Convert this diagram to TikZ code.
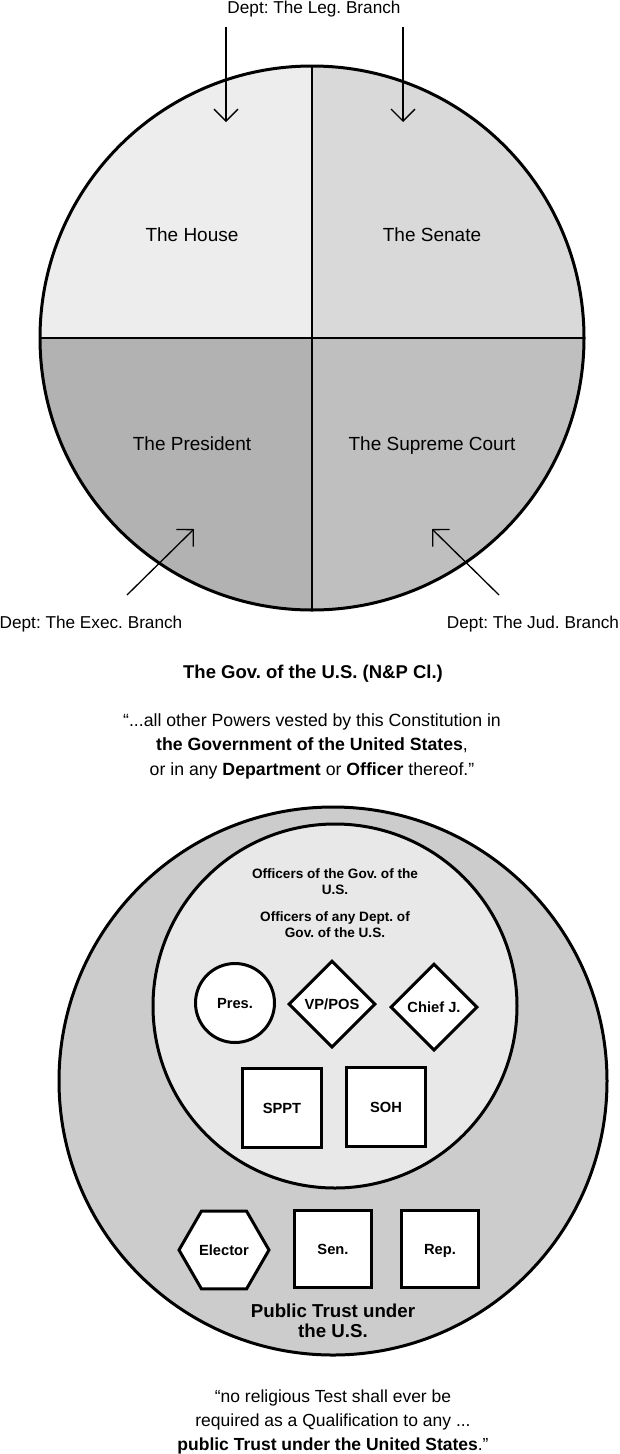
\documentclass[tikz,border=0pt]{standalone}
\usepackage{fontspec}
\setmainfont{Liberation Sans}
\frenchspacing
\usepackage{tikz}
\usetikzlibrary{arrows.meta, shapes.geometric}

\begin{document}
\begin{tikzpicture}[x=1pt, y=-1pt, >={Straight Barb[length=12pt, width=24pt]},
    quad/.style={anchor=base, font=\fontsize{19}{23}\selectfont},
    dept/.style={anchor=base, font=\fontsize{17.2}{21}\selectfont},
    verse/.style={anchor=base, align=center, font=\fontsize{17.7}{24.5}\selectfont},
    office/.style={draw, line width=3pt, fill=white, inner sep=0pt, text height=10.5pt, text depth=0pt,
      font=\bfseries\fontsize{14.7}{17}\selectfont},
    seat/.style={office, rectangle, minimum size=79pt},
    gem/.style={office, diamond, minimum width=87pt, minimum height=87pt}]
  \useasboundingbox (0,0) rectangle (620,1454);
  % the Government, in four quarters
  \begin{scope}
    \clip (312,338) circle[radius=272pt];
    \fill[black!7] (40,66) rectangle (312,338); \fill[black!15] (312,66) rectangle (584,338);
    \fill[black!30] (40,338) rectangle (312,610); \fill[black!25] (312,338) rectangle (584,610);
  \end{scope}
  \draw[line width=2.5pt] (40,338) -- (584,338); \draw[line width=2.5pt] (312,66) -- (312,610);
  \draw[line width=3pt] (312,338) circle[radius=272pt];
  \node[quad] (house) at (192,241) {The House}; \node[quad] (senate) at (432,241) {The Senate};
  \node[quad] (president) at (192,450) {The President}; \node[quad] (court) at (432,450) {The Supreme Court};
  % departments
  \node[dept] (leg) at (314,13) {Dept: The Leg. Branch};
  \node[dept] (exec) at (91,628) {Dept: The Exec. Branch};
  \node[dept] (jud) at (533,628) {Dept: The Jud. Branch};
  \coordinate (legA) at (226,27); \coordinate (houseTip) at (226,122);
  \coordinate (legB) at (403,27); \coordinate (senateTip) at (403,122);
  \coordinate (execTail) at (127,595); \coordinate (presTip) at (194,529);
  \coordinate (judTail) at (499,595); \coordinate (courtTip) at (432,529);
  \draw[->, line width=1.3pt] (legA) -- (houseTip); \draw[->, line width=1.3pt] (legB) -- (senateTip);
  \draw[->, line width=1.3pt] (execTail) -- (presTip); \draw[->, line width=1.3pt] (judTail) -- (courtTip);
  \node[anchor=base, font=\bfseries\fontsize{18.5}{22}\selectfont] (gov) at (313,678) {The Gov. of the U.S. (N\&P Cl.)};
  \node[verse] (powers) at (312,775) {“...all other Powers vested by this Constitution in\\
    \textbf{the Government of the United States},\\ or in any \textbf{Department} or \textbf{Officer} thereof.”};
  % officers and public trust
  \draw[line width=3pt, fill=black!20] (333,1081) circle[radius=274pt];
  \draw[line width=3pt, fill=black!9] (335,1006) circle[radius=182pt];
  \node[anchor=base, align=center, font=\bfseries\fontsize{13.6}{16}\selectfont] (offgov) at (335,894) {Officers of the Gov. of the\\U.S.};
  \node[anchor=base, align=center, font=\bfseries\fontsize{13.6}{16}\selectfont] (offdept) at (335,937) {Officers of any Dept. of\\Gov. of the U.S.};
  \node[office, circle, minimum size=79pt] (pres) at (235,1003) {Pres.};
  \node[gem] (vp) at (332,1004) {VP/POS}; \node[gem] (chief) at (434,1007) {Chief J.};
  \node[seat] (sppt) at (282,1108) {SPPT}; \node[seat] (soh) at (386,1107) {SOH};
  \node[office, regular polygon, regular polygon sides=6, minimum size=90pt] (elector) at (224,1250) {Elector};
  \node[seat, minimum size=77pt] (sen) at (333,1249) {Sen.}; \node[seat, minimum size=77pt] (rep) at (440,1249) {Rep.};
  \node[anchor=base, align=center, font=\bfseries\fontsize{18.7}{19.5}\selectfont] (trust) at (333,1337) {Public Trust under\\the U.S.};
  \node[verse, font=\fontsize{17.5}{23.7}\selectfont] (test) at (333,1450) {“no religious Test shall ever be\\
    required as a Qualification to any ...\\ \textbf{public Trust under the United States}.”};
\end{tikzpicture}
\end{document}
